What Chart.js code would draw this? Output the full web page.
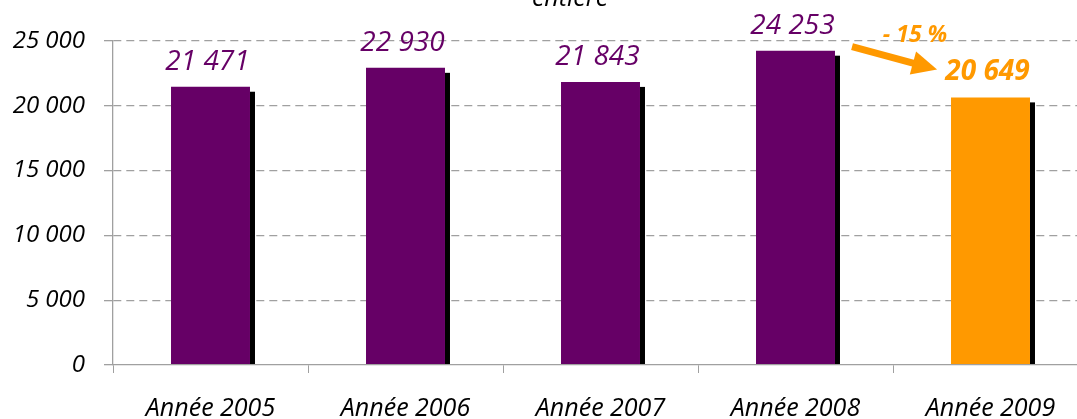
<!DOCTYPE html>
<html lang="fr">
<head>
<meta charset="utf-8">
<title>Années 2005 - 2009</title>
<script src="https://cdn.jsdelivr.net/npm/chart.js@4"></script>
<style>
  html, body { margin: 0; padding: 0; background: #fff; overflow: hidden; }
  #wrap { position: relative; width: 1090px; height: 419px; }
</style>
</head>
<body>
<div id="wrap"><canvas id="barChart"></canvas></div>
<script>
const FONT = "'Open Sans', 'DejaVu Sans', sans-serif";
const PURPLE = '#660066';
const ORANGE = '#FF9900';
const GRID = '#a0a0a0';

// données
const categories = ['Année 2005', 'Année 2006', 'Année 2007', 'Année 2008', 'Année 2009'];
const values = [21471, 22930, 21843, 24253, 20649];
const barColors = [PURPLE, PURPLE, PURPLE, PURPLE, ORANGE];
const yTickValues = [0, 5000, 10000, 15000, 20000, 25000];
const evolutionLabel = '- 15 %';
const titleLine = 'entière';

// 24253 -> "24 253"
function formatNumber(v) {
    return String(v).replace(/\B(?=(\d{3})+(?!\d))/g, ' ');
}

// ombre noire à droite des barres
const shadowPlugin = {
    id: 'barShadow',
    beforeDatasetsDraw(chart) {
        const ctx = chart.ctx;
        ctx.save();
        ctx.fillStyle = '#000';
        chart.getDatasetMeta(0).data.forEach(bar => {
            const p = bar.getProps(['x', 'y', 'base', 'width'], true);
            ctx.fillRect(p.x + p.width / 2, p.y + 5, 5, p.base - p.y - 5);
        });
        ctx.restore();
    }
};

// valeurs au-dessus des barres
const valueLabels = {
    id: 'valueLabels',
    afterDatasetsDraw(chart) {
        const ctx = chart.ctx;
        const last = values.length - 1;
        ctx.save();
        ctx.textAlign = 'center';
        ctx.textBaseline = 'alphabetic';
        chart.getDatasetMeta(0).data.forEach((bar, i) => {
            ctx.font = (i === last ? 'italic bold ' : 'italic ') + '28px ' + FONT;
            ctx.fillStyle = i === last ? ORANGE : PURPLE;
            ctx.fillText(formatNumber(values[i]), bar.x - 3, bar.y - 17);
        });
        ctx.restore();
    }
};

// flèche 2008 -> 2009 et pourcentage
const evolutionArrow = {
    id: 'evolutionArrow',
    afterDatasetsDraw(chart) {
        const ctx = chart.ctx;
        const x = chart.scales.x, y = chart.scales.y;
        const x1 = x.getPixelForValue(3.29), y1 = y.getPixelForValue(24575);
        const x2 = x.getPixelForValue(3.726), y2 = y.getPixelForValue(22794);
        const ang = Math.atan2(y2 - y1, x2 - x1);
        const headLen = 25, headHalf = 12;
        const bx = x2 - headLen * Math.cos(ang), by = y2 - headLen * Math.sin(ang);
        ctx.save();
        ctx.strokeStyle = ORANGE;
        ctx.fillStyle = ORANGE;
        ctx.lineWidth = 7;
        ctx.beginPath();
        ctx.moveTo(x1, y1);
        ctx.lineTo(bx + Math.cos(ang), by + Math.sin(ang));
        ctx.stroke();
        ctx.beginPath();
        ctx.moveTo(x2, y2);
        ctx.lineTo(bx - headHalf * Math.sin(ang), by + headHalf * Math.cos(ang));
        ctx.lineTo(bx + headHalf * Math.sin(ang), by - headHalf * Math.cos(ang));
        ctx.closePath();
        ctx.fill();
        ctx.font = 'italic bold 23px ' + FONT;
        ctx.textAlign = 'center';
        ctx.textBaseline = 'alphabetic';
        ctx.fillText(evolutionLabel, x.getPixelForValue(3.613), y.getPixelForValue(24960));
        ctx.restore();
    }
};

// fin du titre (coupé en haut)
const titleTail = {
    id: 'titleTail',
    afterDraw(chart) {
        const ctx = chart.ctx;
        ctx.save();
        ctx.font = 'italic 25px ' + FONT;
        ctx.fillStyle = '#000';
        ctx.textAlign = 'center';
        ctx.textBaseline = 'alphabetic';
        ctx.fillText(titleLine, 570, 6);
        ctx.restore();
    }
};

const ctx = document.getElementById('barChart').getContext('2d');
const barChart = new Chart(ctx, {
    type: 'bar',
    data: {
        labels: categories,
        datasets: [{
            data: values,
            backgroundColor: barColors,
            borderWidth: 0,
            categoryPercentage: 1,
            barPercentage: 0.405
        }]
    },
    options: {
        responsive: true,
        maintainAspectRatio: false,
        animation: false,
        layout: { padding: { top: 41, left: 0, right: 2, bottom: 0 } },
        plugins: {
            legend: { display: false },
            title: { display: false },
            tooltip: { enabled: false }
        },
        scales: {
            x: {
                afterFit: axis => { axis.height = 54; },
                grid: { offset: true, drawOnChartArea: false, tickLength: 8, color: GRID },
                border: { color: GRID, width: 1.3, z: 1 },
                ticks: {
                    color: '#000',
                    padding: 21,
                    maxRotation: 0,
                    font: { family: FONT, size: 25, style: 'italic' }
                }
            },
            y: {
                min: 0,
                max: 25000,
                afterBuildTicks: axis => { axis.ticks = yTickValues.map(v => ({ value: v })); },
                afterFit: axis => { axis.width = 113; },
                grid: {
                    color: c => (c.tick && c.tick.value === 0 ? 'rgba(0,0,0,0)' : GRID),
                    tickColor: GRID,
                    lineWidth: 1.3,
                    tickLength: 9,
                    tickBorderDash: []
                },
                border: { color: GRID, width: 1.3, dash: [8, 5] },
                ticks: {
                    color: '#000',
                    padding: 19,
                    font: { family: FONT, size: 24, style: 'italic' },
                    callback: v => formatNumber(v)
                }
            }
        }
    },
    plugins: [shadowPlugin, valueLabels, evolutionArrow, titleTail]
});
</script>
</body>
</html>
